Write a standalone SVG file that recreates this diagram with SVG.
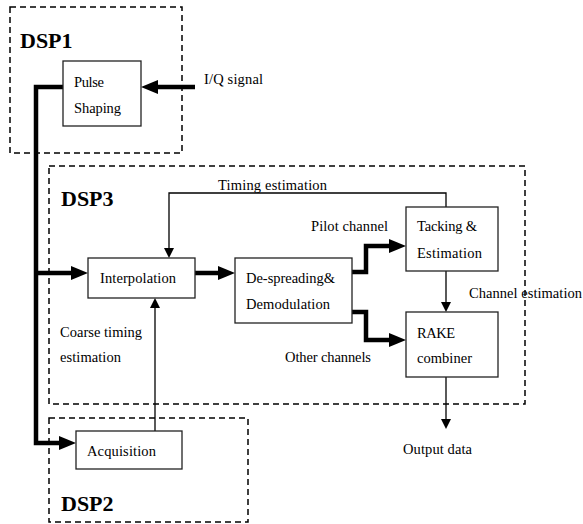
<svg xmlns="http://www.w3.org/2000/svg" width="583" height="524" viewBox="0 0 583 524">
<style>
.bg{fill:#fff}
.grp{fill:none;stroke:#000;stroke-width:1.5;stroke-dasharray:6,4}
.box{fill:#fff;stroke:#222;stroke-width:1.3}
.t{font-family:"Liberation Serif","Times New Roman",serif;font-size:14.5px;fill:#000}
.h{font-family:"Liberation Serif","Times New Roman",serif;font-size:22px;font-weight:bold;fill:#000}
.thick{fill:none;stroke:#000;stroke-width:4.5}
.thin{fill:none;stroke:#000;stroke-width:1.3}
</style>
<defs>
<marker id="ah" markerUnits="userSpaceOnUse" markerWidth="20" markerHeight="16" refX="0" refY="8" orient="auto" viewBox="0 0 20 16" overflow="visible">
<path d="M0,1 L17,8 L0,15 z" fill="#000"/>
</marker>
<marker id="as" markerUnits="userSpaceOnUse" markerWidth="12" markerHeight="10" refX="0" refY="5" orient="auto" viewBox="0 0 12 10" overflow="visible">
<path d="M0,0 L10,5 L0,10 z" fill="#000"/>
</marker>
</defs>
<rect class="bg" x="0" y="0" width="583" height="524"/>
<g id="groups">
<rect class="grp" x="10" y="7" width="172" height="146"/>
<text class="h" x="20" y="48">DSP1</text>
<rect class="grp" x="49" y="166" width="476" height="238"/>
<text class="h" x="61" y="206">DSP3</text>
<rect class="grp" x="49" y="418" width="199" height="104"/>
<text class="h" x="61" y="511">DSP2</text>
</g>
<g id="connectors">
<path class="thick" d="M195,87 L158,87" marker-end="url(#ah)"/>
<path class="thick" d="M63,87 L36,87 L36,443 L59,443" marker-end="url(#ah)"/>
<path class="thick" d="M36,273 L71,273" marker-end="url(#ah)"/>
<path class="thick" d="M195,273 L218,273" marker-end="url(#ah)"/>
<path class="thick" d="M352,272 L366,272 L366,246 L389,246" marker-end="url(#ah)"/>
<path class="thick" d="M352,312 L366,312 L366,340 L389,340" marker-end="url(#ah)"/>
<path class="thin" d="M446,207 L446,193 L169,193 L169,248" marker-end="url(#as)"/>
<path class="thin" d="M155,431 L155,308" marker-end="url(#as)"/>
<path class="thin" d="M446,271 L446,302" marker-end="url(#as)"/>
<path class="thin" d="M446,377 L446,419" marker-end="url(#as)"/>
<text class="t" x="204" y="84" textLength="59">I/Q signal</text>
<text class="t" x="218" y="190" textLength="109">Timing estimation</text>
<text class="t" x="311" y="231" textLength="77">Pilot channel</text>
<text class="t" x="469" y="298" textLength="113">Channel estimation</text>
<text class="t" x="285" y="362" textLength="86">Other channels</text>
<text class="t" x="60" y="337" textLength="82">Coarse timing</text>
<text class="t" x="60" y="362" textLength="61">estimation</text>
<text class="t" x="403" y="454" textLength="69">Output data</text>
</g>
<g id="pulse">
<rect class="box" x="63" y="61" width="78" height="65"/>
<text class="t" x="74" y="87" textLength="30">Pulse</text>
<text class="t" x="74" y="113" textLength="47">Shaping</text>
</g>
<g id="interp">
<rect class="box" x="88" y="258" width="107" height="40"/>
<text class="t" x="100" y="283" textLength="76">Interpolation</text>
</g>
<g id="despread">
<rect class="box" x="235" y="258" width="117" height="65"/>
<text class="t" x="246" y="283" textLength="89">De-spreading&amp;</text>
<text class="t" x="246" y="309" textLength="84">Demodulation</text>
</g>
<g id="tracking">
<rect class="box" x="406" y="207" width="92" height="64"/>
<text class="t" x="417" y="231" textLength="60">Tacking &amp;</text>
<text class="t" x="417" y="258" textLength="65">Estimation</text>
</g>
<g id="rake">
<rect class="box" x="406" y="312" width="92" height="65"/>
<text class="t" x="417" y="338" textLength="38">RAKE</text>
<text class="t" x="417" y="363" textLength="55">combiner</text>
</g>
<g id="acq">
<rect class="box" x="76" y="431" width="106" height="38"/>
<text class="t" x="87" y="456" textLength="69">Acquisition</text>
</g>
</svg>
